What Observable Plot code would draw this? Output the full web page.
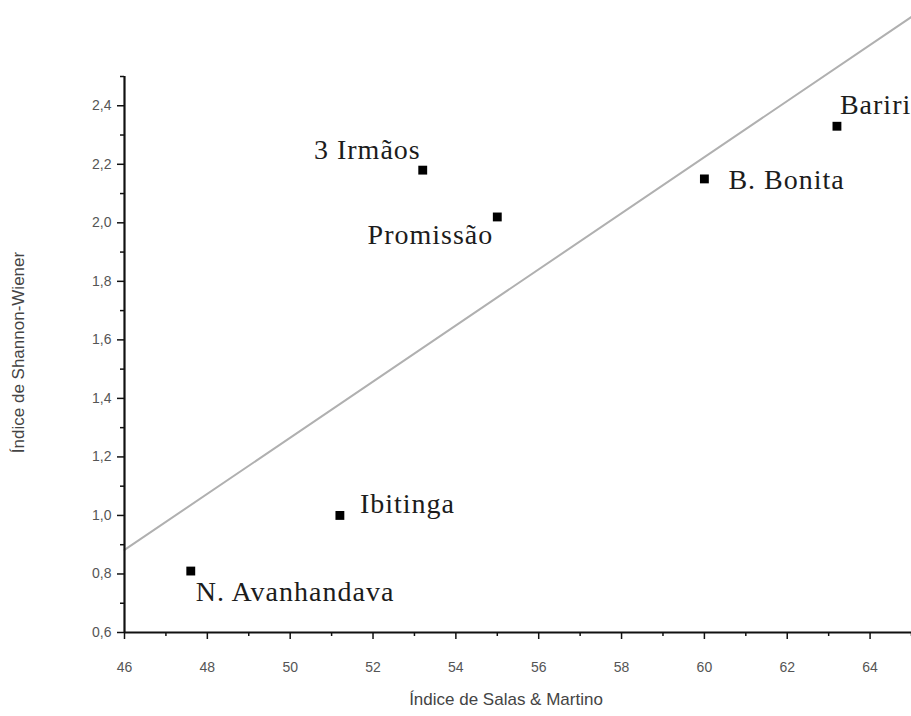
<!DOCTYPE html>
<html><head><meta charset="utf-8">
<script src="https://cdn.jsdelivr.net/npm/d3@7"></script>
<script src="https://cdn.jsdelivr.net/npm/@observablehq/plot@0.6"></script>
<style>body{margin:0;background:#fff}svg{display:block}
g[font-family="Liberation Serif"] text{letter-spacing:1px}</style>
</head><body><div id="chart"></div>
<script>
// ---- data ----
const sites = ["N. Avanhandava", "Ibitinga", "3 Irmãos", "Promissão", "B. Bonita", "Bariri"];
const salasMartino = [47.6, 51.2, 53.2, 55.0, 60.0, 63.2];
const shannonWiener = [0.81, 1.00, 2.18, 2.02, 2.15, 2.33];
const xTicks = [46, 48, 50, 52, 54, 56, 58, 60, 62, 64];
const xMinorTicks = [47, 49, 51, 53, 55, 57, 59, 61, 63, 65];
const yTicks = [0.6, 0.8, 1.0, 1.2, 1.4, 1.6, 1.8, 2.0, 2.2, 2.4];
const yMinorTicks = [0.7, 0.9, 1.1, 1.3, 1.5, 1.7, 1.9, 2.1, 2.3, 2.5];
const xTitle = "Índice de Salas & Martino";
const yTitle = "Índice de Shannon-Wiener";

// ---- build ----
const points = sites.map((s, i) => ({site: s, x: salasMartino[i], y: shannonWiener[i]}));
const xDomain = [46, 65], yDomain = [0.6, 2.5];

// least squares fit from the data
const mx = d3.mean(salasMartino), my = d3.mean(shannonWiener);
const slope = d3.sum(points, p => (p.x - mx) * (p.y - my)) / d3.sum(points, p => (p.x - mx) ** 2);
const icpt = my - slope * mx;
const fit = xDomain.map(x => ({x, y: icpt + slope * x}));

// label placement (layout only)
const place = {
  "N. Avanhandava": {dx: 5, dy: 21, anchor: "start"},
  "Ibitinga": {dx: 20, dy: -11, anchor: "start"},
  "3 Irmãos": {dx: -2, dy: -20, anchor: "end"},
  "Promissão": {dx: -4, dy: 18, anchor: "end"},
  "B. Bonita": {dx: 24, dy: 1, anchor: "start"},
  "Bariri": {dx: 3, dy: -21, anchor: "start"}
};
const fmt = d => d.toFixed(1).replace(".", ",");

const labelMarks = sites.map(s => Plot.text(points.filter(p => p.site === s), {
  x: "x", y: "y", text: "site", dx: place[s].dx, dy: place[s].dy, textAnchor: place[s].anchor,
  fontFamily: "Liberation Serif", fontSize: 28, fill: "#1c1c1c"
}));

const chart = Plot.plot({
  width: 911, height: 716,
  marginLeft: 124, marginRight: 0, marginTop: 76, marginBottom: 84,
  style: {fontFamily: "Liberation Sans", background: "#fff", overflow: "visible"},
  x: {domain: xDomain},
  y: {domain: yDomain},
  marks: [
    Plot.line(fit, {x: "x", y: "y", stroke: "#b0b0b0", strokeWidth: 2, clip: false}),
    Plot.axisX({ticks: xMinorTicks, tickSize: 4, text: null, label: null, stroke: "#111", strokeWidth: 1.5}),
    Plot.axisX({ticks: xTicks, tickSize: 7, tickPadding: 23, tickFormat: d => String(d), fontSize: 14, fill: "#555", stroke: "#111", strokeWidth: 1.5, label: null}),
    Plot.axisY({ticks: yMinorTicks, tickSize: 4, text: null, label: null, stroke: "#111", strokeWidth: 1.5}),
    Plot.axisY({ticks: yTicks, tickSize: 7, tickPadding: 6, tickFormat: fmt, fontSize: 14, fill: "#555", stroke: "#111", strokeWidth: 1.5, label: null}),
    Plot.text([xTitle], {frameAnchor: "bottom", textAnchor: "middle", dx: -12, dy: 72, fontSize: 17, fill: "#444", fontFamily: "Liberation Sans"}),
    Plot.text([yTitle], {frameAnchor: "left", textAnchor: "middle", rotate: -90, dx: -106, dy: -2, fontSize: 17, fill: "#444", fontFamily: "Liberation Sans"}),
    Plot.ruleY([0.6], {stroke: "#111", strokeWidth: 2.2}),
    Plot.ruleX([46], {stroke: "#111", strokeWidth: 2.2}),
    Plot.dot(points, {x: "x", y: "y", symbol: "square", r: 5, fill: "#000", stroke: "none"}),
    ...labelMarks
  ]
});
document.getElementById("chart").append(chart);
</script>
</body></html>
